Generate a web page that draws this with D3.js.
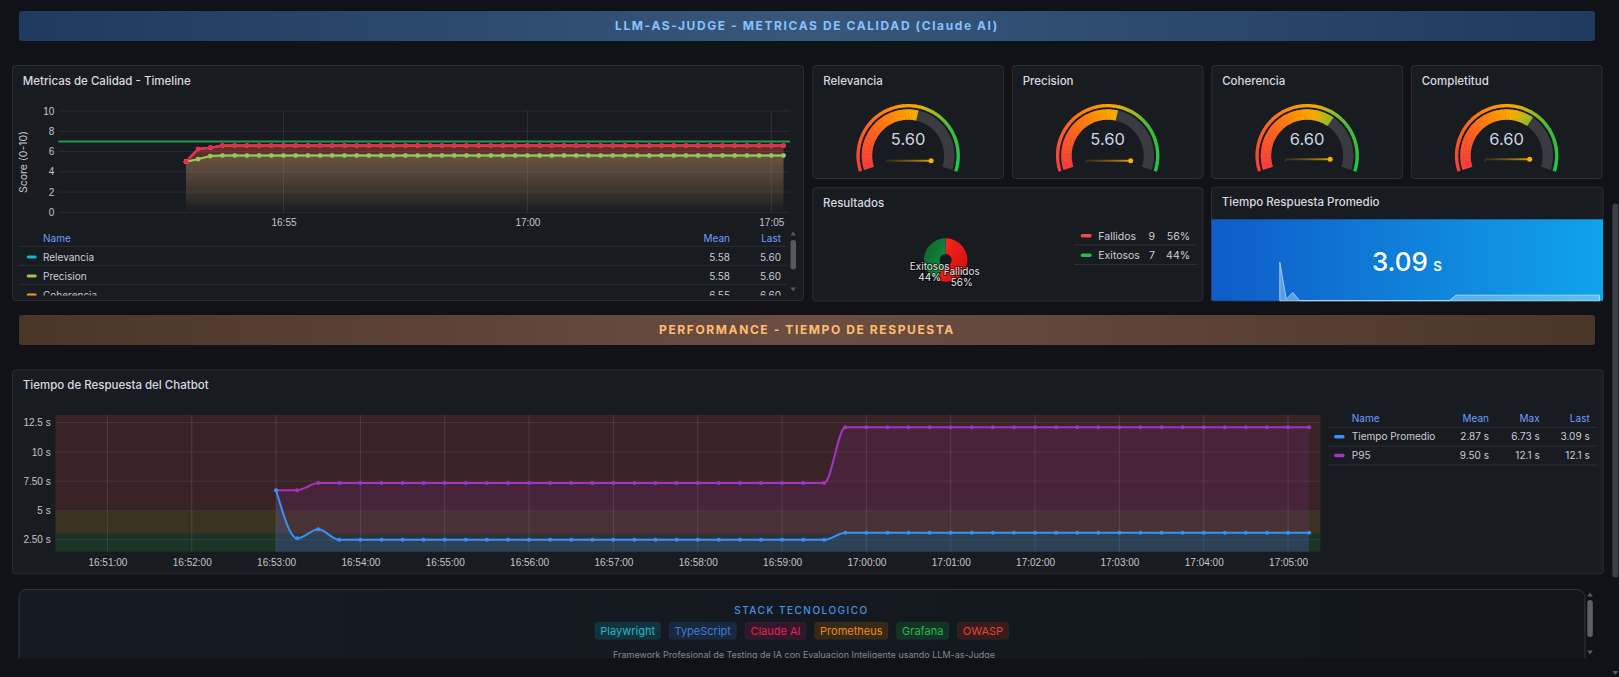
<!DOCTYPE html>
<html><head><meta charset="utf-8">
<script src="https://cdn.jsdelivr.net/npm/d3@7"></script>
<style>
html,body{margin:0;padding:0;background:#111217;overflow:hidden;}
svg{display:block;font-family:Inter,"Noto Sans","DejaVu Sans",sans-serif;}
</style></head><body>
<svg id="c" width="1619" height="677"></svg>
<script>
// ================= DATA =================
const timeRange = ["16:50:23", "17:05:23"];
const sampleTimes = [
 "16:53:00","16:53:15","16:53:30","16:53:45",
 "16:54:00","16:54:15","16:54:30","16:54:45",
 "16:55:00","16:55:15","16:55:30","16:55:45",
 "16:56:00","16:56:15","16:56:30","16:56:45",
 "16:57:00","16:57:15","16:57:30","16:57:45",
 "16:58:00","16:58:15","16:58:30","16:58:45",
 "16:59:00","16:59:15","16:59:30","16:59:45",
 "17:00:00","17:00:15","17:00:30","17:00:45",
 "17:01:00","17:01:15","17:01:30","17:01:45",
 "17:02:00","17:02:15","17:02:30","17:02:45",
 "17:03:00","17:03:15","17:03:30","17:03:45",
 "17:04:00","17:04:15","17:04:30","17:04:45",
 "17:05:00","17:05:15"];

const qualityNames = ["Relevancia","Precision","Coherencia","Completitud"];
const relevancia = [5.0,5.25,5.55,
 5.6,5.6,5.6,5.6,5.6,5.6,5.6,5.6,5.6,5.6,
 5.6,5.6,5.6,5.6,5.6,5.6,5.6,5.6,5.6,5.6,
 5.6,5.6,5.6,5.6,5.6,5.6,5.6,5.6,5.6,5.6,
 5.6,5.6,5.6,5.6,5.6,5.6,5.6,5.6,5.6,5.6,
 5.6,5.6,5.6,5.6,5.6,5.6,5.6];
const precision = [5.0,5.25,5.55,
 5.6,5.6,5.6,5.6,5.6,5.6,5.6,5.6,5.6,5.6,
 5.6,5.6,5.6,5.6,5.6,5.6,5.6,5.6,5.6,5.6,
 5.6,5.6,5.6,5.6,5.6,5.6,5.6,5.6,5.6,5.6,
 5.6,5.6,5.6,5.6,5.6,5.6,5.6,5.6,5.6,5.6,
 5.6,5.6,5.6,5.6,5.6,5.6,5.6];
const coherencia = [5.0,6.25,6.38,
 6.6,6.6,6.6,6.6,6.6,6.6,6.6,6.6,6.6,6.6,
 6.6,6.6,6.6,6.6,6.6,6.6,6.6,6.6,6.6,6.6,
 6.6,6.6,6.6,6.6,6.6,6.6,6.6,6.6,6.6,6.6,
 6.6,6.6,6.6,6.6,6.6,6.6,6.6,6.6,6.6,6.6,
 6.6,6.6,6.6,6.6,6.6,6.6,6.6];
const completitud = [5.0,6.25,6.38,
 6.6,6.6,6.6,6.6,6.6,6.6,6.6,6.6,6.6,6.6,
 6.6,6.6,6.6,6.6,6.6,6.6,6.6,6.6,6.6,6.6,
 6.6,6.6,6.6,6.6,6.6,6.6,6.6,6.6,6.6,6.6,
 6.6,6.6,6.6,6.6,6.6,6.6,6.6,6.6,6.6,6.6,
 6.6,6.6,6.6,6.6,6.6,6.6,6.6];
const qualityColors = ["#17b4d2","#a6c445","#ff9a1f","#e8275d"];
const qualityMean = ["5.58","5.58","6.55","6.55"];
const qualityLast = ["5.60","5.60","6.60","6.60"];
const qualityYTicks = [0,2,4,6,8,10];
const qualityThreshold = 7;

const gaugeNames = ["Relevancia","Precision","Coherencia","Completitud"];
const gaugeValues = [5.60, 5.60, 6.60, 6.60];
const gaugeRange = [0, 10];

const resultLabels = ["Fallidos","Exitosos"];
const resultCounts = [9, 7];
const resultPct = ["56%","44%"];

const statTitle = "Tiempo Respuesta Promedio";
const statValue = "3.09";
const statUnit = "s";

const respNames = ["Tiempo Promedio","P95"];
const tiempoPromedio = [6.73,2.62,3.39,
 2.49,2.49,2.49,2.49,2.49,2.49,2.49,2.49,2.49,2.49,2.49,2.49,
 2.49,2.49,2.49,2.49,2.49,2.49,2.49,2.49,2.49,2.49,2.49,2.49,
 3.09,3.09,3.09,3.09,3.09,3.09,3.09,3.09,3.09,3.09,3.09,3.09,
 3.09,3.09,3.09,3.09,3.09,3.09,3.09,3.09,3.09,3.09,3.09];
const p95 = [6.73,6.73,
 7.33,7.33,7.33,7.33,7.33,7.33,7.33,7.33,7.33,7.33,7.33,7.33,7.33,
 7.33,7.33,7.33,7.33,7.33,7.33,7.33,7.33,7.33,7.33,7.33,7.33,
 12.1,12.1,12.1,12.1,12.1,12.1,12.1,12.1,12.1,12.1,12.1,12.1,
 12.1,12.1,12.1,12.1,12.1,12.1,12.1,12.1,12.1,12.1,12.1];
const respColors = ["#3792f0","#a534c2"];
const respMean = ["2.87 s","9.50 s"];
const respMax = ["6.73 s","12.1 s"];
const respLast = ["3.09 s","12.1 s"];
const respYTicks = [2.5,5,7.5,10,12.5];
const respYTickLabels = ["2.50 s","5 s","7.50 s","10 s","12.5 s"];
const respYDomain = [1.48, 13.14];
const respThresholds = [3, 5];
const respBandColors = ["#1a3426","#3b3322","#3a2327"];

const stackTitle = "STACK TECNOLOGICO";
const stackNames = ["Playwright","TypeScript","Claude AI","Prometheus","Grafana","OWASP"];
const stackText = ["#27b5c8","#3f7fd8","#e0245e","#f08c1a","#2bb552","#e8432f"];
const stackBg = ["#0f343d","#18283f","#34182a","#372915","#113424","#361c1d"];
const footerText = "Framework Profesional de Testing de IA con Evaluacion Inteligente usando LLM-as-Judge";

// ================= DRAW =================
const svg = d3.select("#c");
const defs = svg.append("defs");
const T = d3.timeParse("%H:%M:%S");
const times = sampleTimes.map(T);
const tDomain = timeRange.map(T);
const TXT = "#ccccdc";
const HEAD = "#6e9fff";

svg.append("rect").attr("width",1619).attr("height",677).attr("fill","#111217");

function hgrad(id, stops){
  const g = defs.append("linearGradient").attr("id",id).attr("x1",0).attr("x2",1).attr("y1",0).attr("y2",0);
  stops.forEach(([o,c,a])=>g.append("stop").attr("offset",o).attr("stop-color",c).attr("stop-opacity",a==null?1:a));
}
hgrad("gTitle",[[0,"#1e3a5e"],[0.5,"#385779"],[1,"#1e3a5e"]]);
hgrad("gPerf",[[0,"#4a3628"],[0.5,"#6c4e42"],[1,"#4a3628"]]);
hgrad("gStat",[[0,"#0f5cc8"],[1,"#10a3eb"]]);
hgrad("gStack",[[0,"#161b23"],[1,"#12161c"]]);
hgrad("gSpark",[[0,"#8a6410",0.25],[1,"#d99a10",1]]);

function banner(y, grad, label, color){
  svg.append("rect").attr("x",19).attr("y",y).attr("width",1576).attr("height",30).attr("rx",3).attr("fill",`url(#${grad})`);
  svg.append("text").attr("x",807).attr("y",y+18.6).attr("text-anchor","middle")
    .attr("fill",color).attr("font-size",12).attr("font-weight",700).attr("letter-spacing",1.6).text(label);
}
function panel(x,y,w,h,title){
  svg.append("rect").attr("x",x+0.5).attr("y",y+0.5).attr("width",w-1).attr("height",h-1).attr("rx",3)
    .attr("fill","#181b1f").attr("stroke","#2b2e35");
  if(title) svg.append("text").attr("x",x+10.8).attr("y",y+19.6).attr("fill","#d8d9e0")
    .attr("font-size",11.5).attr("font-weight",500).text(title);
}
function txt(x,y,s,o={}){
  return svg.append("text").attr("x",x).attr("y",y).text(s)
    .attr("fill",o.fill||TXT).attr("font-size",o.size||10).attr("font-weight",o.weight||400)
    .attr("text-anchor",o.anchor||"start");
}

banner(11,"gTitle","LLM-AS-JUDGE - METRICAS DE CALIDAD (Claude AI)","#86c2ff");
banner(315,"gPerf","PERFORMANCE - TIEMPO DE RESPUESTA","#ffbd72");

// ---------- Timeline panel ----------
panel(12,65,792,236,"Metricas de Calidad - Timeline");
const x1 = d3.scaleTime().domain(tDomain).range([58.3,790]);
const y1 = d3.scaleLinear().domain([0,10]).range([212.3,111]);
const g1 = svg.append("g");
g1.selectAll("line.h").data(qualityYTicks).join("line").attr("x1",58.3).attr("x2",790)
  .attr("y1",d=>y1(d)).attr("y2",d=>y1(d)).attr("stroke","rgba(204,204,220,0.09)");
const tl5 = x1.ticks(d3.timeMinute.every(5));
g1.selectAll("line.v").data(tl5).join("line").attr("x1",d=>x1(d)).attr("x2",d=>x1(d))
  .attr("y1",111).attr("y2",212.3).attr("stroke","rgba(204,204,220,0.12)");
const ax1 = g1.append("g").attr("transform","translate(0,212.3)")
  .call(d3.axisBottom(x1).tickValues(tl5).tickFormat(d3.timeFormat("%H:%M")).tickSize(0).tickPadding(7));
const ay1 = g1.append("g").attr("transform","translate(58.3,0)")
  .call(d3.axisLeft(y1).tickValues(qualityYTicks).tickSize(0).tickPadding(4));
[ax1,ay1].forEach(a=>{a.select(".domain").remove(); a.selectAll("text").attr("fill","#c4c5cd").attr("font-size",10).attr("font-family",null);});
g1.append("text").attr("transform","translate(26.5,162) rotate(-90)").attr("text-anchor","middle")
  .attr("fill","#c4c5cd").attr("font-size",10.5).text("Score (0-10)");
// threshold line
g1.append("line").attr("x1",58.3).attr("x2",790).attr("y1",y1(qualityThreshold)).attr("y2",y1(qualityThreshold))
  .attr("stroke","#1e9b49").attr("stroke-width",2);
const qSeries = [relevancia,precision,coherencia,completitud];
qSeries.forEach((s,i)=>{
  const gid="qf"+i;
  const lg = defs.append("linearGradient").attr("id",gid).attr("gradientUnits","userSpaceOnUse")
    .attr("x1",0).attr("x2",0).attr("y1",111).attr("y2",212.3);
  lg.append("stop").attr("offset",0).attr("stop-color",qualityColors[i]).attr("stop-opacity",0.3);
  lg.append("stop").attr("offset",1).attr("stop-color",qualityColors[i]).attr("stop-opacity",0.0);
  g1.append("path").datum(s).attr("fill",`url(#${gid})`)
    .attr("d",d3.area().x((d,j)=>x1(times[j])).y0(212.3).y1(d=>y1(d)));
});
qSeries.forEach((s,i)=>{
  g1.append("path").datum(s).attr("fill","none").attr("stroke",qualityColors[i]).attr("stroke-width",2)
    .attr("d",d3.line().x((d,j)=>x1(times[j])).y(d=>y1(d)));
  g1.selectAll(null).data(s).join("circle").attr("cx",(d,j)=>x1(times[j])).attr("cy",d=>y1(d))
    .attr("r",2.3).attr("fill",qualityColors[i]);
});
// legend
const clip1 = defs.append("clipPath").attr("id","lg1");
clip1.append("rect").attr("x",12).attr("y",228).attr("width",780).attr("height",67.5);
const lg1 = svg.append("g").attr("clip-path","url(#lg1)");
lg1.append("text").attr("x",43).attr("y",241.5).attr("fill",HEAD).attr("font-size",10).text("Name");
lg1.append("text").attr("x",730).attr("y",241.5).attr("text-anchor","end").attr("fill",HEAD).attr("font-size",10).text("Mean");
lg1.append("text").attr("x",781).attr("y",241.5).attr("text-anchor","end").attr("fill",HEAD).attr("font-size",10).text("Last");
qualityNames.forEach((n,i)=>{
  const yb = 260.5 + i*19;
  lg1.append("line").attr("x1",19).attr("x2",787).attr("y1",yb-14.2).attr("y2",yb-14.2).attr("stroke","#2c2f35");
  lg1.append("rect").attr("x",26.7).attr("y",yb-5).attr("width",10).attr("height",3).attr("rx",1.5).attr("fill",qualityColors[i]);
  lg1.append("text").attr("x",43).attr("y",yb).attr("fill",TXT).attr("font-size",10).text(n);
  lg1.append("text").attr("x",730).attr("y",yb).attr("text-anchor","end").attr("fill",TXT).attr("font-size",10).text(qualityMean[i]);
  lg1.append("text").attr("x",781).attr("y",yb).attr("text-anchor","end").attr("fill",TXT).attr("font-size",10).text(qualityLast[i]);
});
// legend scrollbar
svg.append("rect").attr("x",790.5).attr("y",240).attr("width",5.5).attr("height",29.5).attr("rx",2.7).attr("fill","#55585f");
svg.append("path").attr("d","M793.2,231.5 L796,235.5 L790.4,235.5 Z").attr("fill","#55585f");
svg.append("path").attr("d","M793.2,291.5 L796,287.5 L790.4,287.5 Z").attr("fill","#55585f");

// ---------- Gauges ----------
const gA = d3.scaleLinear().domain(gaugeRange).range([-108*Math.PI/180,108*Math.PI/180]);
const gC = d3.scaleLinear().domain([0,2.5,4.5,5.5,6.3,7.5,10])
  .range(["#f73c3c","#ff6420","#ff9800","#f5ad00","#a9bb22","#45bd37","#17cc4c"]);
const arcG = d3.arc();
const step = 0.1;
const segs = d3.range(gaugeRange[0], gaugeRange[1], step);
gaugeNames.forEach((name,i)=>{
  const px = 812.4 + i*199.5, pw = 191.5;
  panel(px,65,pw,114,name);
  const cx = px+pw/2, cy = 155.7;
  const g = svg.append("g").attr("transform",`translate(${cx},${cy})`);
  g.selectAll("path.t").data(segs).join("path")
    .attr("d",v=>arcG({innerRadius:48.4,outerRadius:51.7,startAngle:gA(v),endAngle:gA(Math.min(v+step*1.3,gaugeRange[1]))}))
    .attr("fill",v=>gC(v+step/2));
  g.append("path").attr("d",arcG({innerRadius:36,outerRadius:46.4,startAngle:gA(gaugeRange[0]),endAngle:gA(gaugeRange[1])}))
    .attr("fill","#3a3b41");
  const val = gaugeValues[i];
  g.selectAll("path.v").data(segs.filter(v=>v<val-1e-9)).join("path")
    .attr("d",v=>arcG({innerRadius:36,outerRadius:46.4,startAngle:gA(v),endAngle:gA(Math.min(v+step*1.3,val))}))
    .attr("fill",v=>gC(v+step/2));
  g.append("text").attr("x",0).attr("y",145-cy).attr("text-anchor","middle").attr("fill","#cdd6e6")
    .attr("font-size",16.5).text(val.toFixed(2));
  // sparkline
  const s = qSeries[i];
  const sx = d3.scaleTime().domain([times[0],times[times.length-1]]).range([cx-22,cx+23]);
  const sy = d3.scaleLinear().domain(gaugeRange).range([168.5,154.5]);
  svg.append("path").datum(s).attr("fill","none").attr("stroke","url(#gSpark)").attr("stroke-width",2)
    .attr("d",d3.line().x((d,j)=>sx(times[j])).y(d=>sy(d)));
  svg.append("circle").attr("cx",sx(times[times.length-1])).attr("cy",sy(s[s.length-1])).attr("r",2.5).attr("fill","#ffb000");
});

// ---------- Resultados ----------
panel(812.3,187.3,391,114.4,"Resultados");
const pieData = d3.pie().sort(null).value(d=>d)(resultCounts);
const pArc = d3.arc().innerRadius(6).outerRadius(21.7);
const pg = svg.append("g").attr("transform","translate(945.7,260)");
const pGrads = [["#ff2a1c","#cc0c0c"],["#0a5f28","#169846"]];
pGrads.forEach((c,i)=>{
  const lg = defs.append("linearGradient").attr("id","pg"+i).attr("x1",0).attr("x2",1).attr("y1",0).attr("y2",1);
  lg.append("stop").attr("offset",0).attr("stop-color",c[0]);
  lg.append("stop").attr("offset",1).attr("stop-color",c[1]);
});
pg.selectAll("path").data(pieData).join("path").attr("d",pArc).attr("fill",(d,i)=>`url(#pg${i})`);
const labelNudge = [2.5,-2.5];
pieData.forEach((d,i)=>{
  const [lx,ly] = pArc.centroid(d);
  [[resultLabels[i],12.5],[resultPct[i],23.5]].forEach(([s,off])=>{
    pg.append("text").attr("x",lx+labelNudge[i]).attr("y",ly+off).attr("text-anchor","middle").attr("font-size",10)
      .attr("fill","#e4e5ea").attr("stroke","rgba(0,0,0,0.55)").attr("stroke-width",2.2)
      .attr("paint-order","stroke").text(s);
  });
});
const resLegColors = ["#f24a4a","#1fbf4f"];
resultLabels.forEach((n,i)=>{
  const yb = 239.5 + i*19.5;
  svg.append("rect").attr("x",1080.7).attr("y",yb-5.5).attr("width",11).attr("height",3.5).attr("rx",1.7).attr("fill",resLegColors[i]);
  txt(1098.3,yb,n,{size:10.5});
  txt(1155,yb,String(resultCounts[i]),{size:10.5,anchor:"end"});
  txt(1190,yb,resultPct[i],{size:10.5,anchor:"end"});
  svg.append("line").attr("x1",1074).attr("x2",1197).attr("y1",yb+5.5).attr("y2",yb+5.5).attr("stroke","#2c2f35");
});

// ---------- Stat ----------
panel(1211,186.7,392.5,114.8,statTitle);
svg.append("rect").attr("x",1211.5).attr("y",219.3).attr("width",391.5).attr("height",81.5).attr("fill","url(#gStat)");
const stx = d3.scaleTime().domain(tDomain).range([1211.5,1603]);
const sty = d3.scaleLinear().domain(d3.extent(tiempoPromedio)).range([300.6,262]);
svg.append("path").datum(tiempoPromedio).attr("fill","rgba(200,235,255,0.4)").attr("stroke","rgba(220,240,255,0.65)").attr("stroke-width",1)
  .attr("d",d3.area().x((d,j)=>stx(times[j])).y0(300.8).y1(d=>sty(d)));
const sv = svg.append("text").attr("x",1407).attr("y",270.7).attr("text-anchor","middle").attr("fill","#ffffff");
sv.append("tspan").attr("font-size",26).attr("font-weight",500).text(statValue);
sv.append("tspan").attr("font-size",17).attr("font-weight",500).attr("dx",5).text(statUnit);

// ---------- Response time panel ----------
panel(12,369.3,1591.5,205,"Tiempo de Respuesta del Chatbot");
const x2 = d3.scaleTime().domain(tDomain).range([55.4,1320.4]);
const y2 = d3.scaleLinear().domain(respYDomain).range([551.7,415]);
const g2 = svg.append("g");
const bandEdges = [respYDomain[0], ...respThresholds, respYDomain[1]];
respBandColors.forEach((c,i)=>{
  g2.append("rect").attr("x",55.4).attr("width",1320.4-55.4)
    .attr("y",y2(bandEdges[i+1])).attr("height",y2(bandEdges[i])-y2(bandEdges[i+1])).attr("fill",c);
});
const tl1 = x2.ticks(d3.timeMinute.every(1));
g2.selectAll("line.v").data(tl1).join("line").attr("x1",d=>x2(d)).attr("x2",d=>x2(d))
  .attr("y1",415).attr("y2",551.7).attr("stroke","rgba(220,220,235,0.13)");
g2.selectAll("line.h").data(respYTicks).join("line").attr("x1",55.4).attr("x2",1320.4)
  .attr("y1",d=>y2(d)).attr("y2",d=>y2(d)).attr("stroke","rgba(220,220,235,0.09)");
const respSeries = [tiempoPromedio,p95];
const respFill = ["rgba(56,146,240,0.15)","rgba(168,48,196,0.13)"];
[1,0].forEach(i=>{
  g2.append("path").datum(respSeries[i]).attr("fill",respFill[i])
    .attr("d",d3.area().curve(d3.curveMonotoneX).x((d,j)=>x2(times[j])).y0(551.7).y1(d=>y2(d)));
});
[1,0].forEach(i=>{
  g2.append("path").datum(respSeries[i]).attr("fill","none").attr("stroke",respColors[i]).attr("stroke-width",2)
    .attr("d",d3.line().curve(d3.curveMonotoneX).x((d,j)=>x2(times[j])).y(d=>y2(d)));
  g2.selectAll(null).data(respSeries[i]).join("circle").attr("cx",(d,j)=>x2(times[j])).attr("cy",d=>y2(d))
    .attr("r",2).attr("fill",respColors[i]);
});
const ax2 = g2.append("g").attr("transform","translate(0,551.7)")
  .call(d3.axisBottom(x2).tickValues(tl1).tickFormat(d3.timeFormat("%H:%M:%S")).tickSize(0).tickPadding(7));
const ay2 = g2.append("g").attr("transform","translate(55.4,0)")
  .call(d3.axisLeft(y2).tickValues(respYTicks).tickFormat((d,i)=>respYTickLabels[i]).tickSize(0).tickPadding(4.7));
[ax2,ay2].forEach(a=>{a.select(".domain").remove(); a.selectAll("text").attr("fill","#c4c5cd").attr("font-size",10).attr("font-family",null);});
// legend
const lh = 421.5;
txt(1351.8,lh,"Name",{fill:HEAD});
txt(1489,lh,"Mean",{fill:HEAD,anchor:"end"});
txt(1539.7,lh,"Max",{fill:HEAD,anchor:"end"});
txt(1589.7,lh,"Last",{fill:HEAD,anchor:"end"});
respNames.forEach((n,i)=>{
  const yb = 440.3 + i*18.8;
  svg.append("line").attr("x1",1328).attr("x2",1596.7).attr("y1",yb-13).attr("y2",yb-13).attr("stroke","#2c2f35");
  svg.append("rect").attr("x",1334).attr("y",yb-5.3).attr("width",10.7).attr("height",3.5).attr("rx",1.7).attr("fill",respColors[i]);
  txt(1351.8,yb,n);
  txt(1489,yb,respMean[i],{anchor:"end"});
  txt(1539.7,yb,respMax[i],{anchor:"end"});
  txt(1589.7,yb,respLast[i],{anchor:"end"});
});
svg.append("line").attr("x1",1328).attr("x2",1596.7).attr("y1",465).attr("y2",465).attr("stroke","#2c2f35");

// ---------- Stack panel ----------
svg.append("rect").attr("x",19).attr("y",589.5).attr("width",1566).attr("height",120).attr("rx",8)
  .attr("fill","url(#gStack)").attr("stroke","#30353d");
svg.append("text").attr("x",801.5).attr("y",613.6).attr("text-anchor","middle").attr("fill","#4a92e6")
  .attr("font-size",10).attr("font-weight",500).attr("letter-spacing",1.5).text(stackTitle);
const bg = svg.append("g");
const badgeTexts = stackNames.map((n,i)=>bg.append("text").attr("font-size",11).attr("fill",stackText[i]).attr("text-anchor","middle").text(n));
const bw = badgeTexts.map(t=>t.node().getComputedTextLength()+11);
const gap = 8.5;
const total = d3.sum(bw)+gap*(bw.length-1);
let bx = 801.7 - total/2;
badgeTexts.forEach((t,i)=>{
  bg.insert("rect","text").attr("x",bx).attr("y",622.3).attr("width",bw[i]).attr("height",17).attr("rx",3)
    .attr("fill",stackBg[i]).attr("stroke","rgba(255,255,255,0.04)");
  t.attr("x",bx+bw[i]/2).attr("y",634.6);
  bx += bw[i]+gap;
});
svg.append("text").attr("x",804).attr("y",657.6).attr("text-anchor","middle").attr("fill","#7f8792")
  .attr("font-size",9).text(footerText);
// bottom strip
svg.append("rect").attr("x",0).attr("y",658.4).attr("width",1619).attr("height",20).attr("fill","#111217");
// inner scrollbar
svg.append("rect").attr("x",1587.3).attr("y",600).attr("width",5.5).attr("height",37).attr("rx",2.7).attr("fill","#5b5f67");
svg.append("path").attr("d","M1590,592.5 L1592.8,596.5 L1587.2,596.5 Z").attr("fill","#5b5f67");
svg.append("path").attr("d","M1590,654.5 L1592.8,650.5 L1587.2,650.5 Z").attr("fill","#5b5f67");
// page scrollbar
svg.append("rect").attr("x",1612.4).attr("y",203.5).attr("width",6).attr("height",374).attr("rx",3).attr("fill","#3c3f45");
svg.append("path").attr("d","M1615.4,675 L1618.2,671 L1612.6,671 Z").attr("fill","#5b5f67");
</script>
</body></html>
